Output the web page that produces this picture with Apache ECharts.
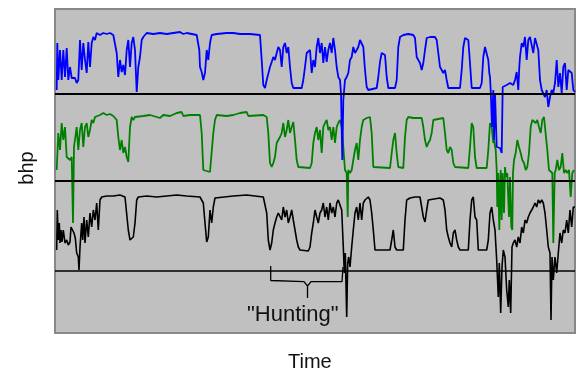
<!DOCTYPE html>
<html>
<head>
<meta charset="utf-8">
<script src="https://cdn.jsdelivr.net/npm/echarts@6/dist/echarts.min.js"></script>
<style>
  html, body { margin: 0; padding: 0; background: #fff; }
  #chart1 { width: 580px; height: 373px; }
</style>
</head>
<body>
<div id="chart1"></div>
<script>
// time (arbitrary units) , bhp (arbitrary units)
const blueTrace = [
  [1.7,243],[2.3,290],[3.3,253],[5,283],[6.7,253],[8.3,283],[10,256],[11.7,285],[13.3,253],[15,266],
  [16.7,255],[18.3,253],[20,255],[21.7,250],[23.3,253],[25,293],[26.7,263],[28.3,290],[30,273],[31.7,260],
  [33.3,291],[35,266],[36.7,290],[38.3,296],[40,293],[41.7,300],[45,298],[48.3,300],[51.7,299],[55,300],
  [58.3,298],[60,298],[61.7,280],[63.3,256],[65,273],[66.7,261],[68.3,268],[70,258],[71.7,283],[73.3,293],
  [75,266],[76.7,290],[78.3,296],[80,283],[81.7,241],[83.3,266],[85,276],[86.7,293],[88.3,296],[90,298],
  [91.7,300],[98.3,299],[105,300],[111.7,299],[118.3,300],[125,301],[128.3,299],[131.7,300],[136.7,299],[141.7,298],
  [143.3,296],[144.3,283],[145,266],[146.7,261],[148.3,253],[150,260],[151.7,283],[153.3,273],[155,290],[156.7,298],
  [161.7,299],[171.7,300],[178.3,300],[185,299],[195,299],[205,298],[206.7,273],[208.3,248],[210,245],[211.7,253],
  [213.3,251],[215,266],[216.7,271],[218.3,276],[220,273],[221.7,280],[223.3,286],[225,283],[226.7,266],[228.3,286],
  [230,290],[231.7,280],[233.3,286],[235,266],[236.7,250],[238.3,245],[246.7,245],[248.3,253],[250,266],[251.7,280],
  [253.3,278],[255,283],[256.7,260],[258.3,273],[260,266],[261.7,286],[263.3,295],[265,280],[266.7,290],[268.3,270],
  [270,286],[271.7,271],[273.3,283],[275,290],[276.7,280],[278.3,295],[280,283],[281.7,266],[283.3,256],[285,253],
  [286,240],[287.3,173],[288.3,233],[290,253],[291.7,256],[293.3,260],[295,273],[296.7,276],[298.3,286],[300,280],
  [301.7,283],[303.3,286],[305,293],[306.7,293],[308.3,286],[310,263],[311.7,246],[313.3,243],[321.7,245],[323.3,256],
  [325,271],[326.7,280],[328.3,281],[330,278],[331.7,256],[333.3,245],[340,245],[341.7,253],[343.3,286],[345,296],
  [348.3,298],[353.3,299],[358.3,298],[360,295],[361.7,276],[363.3,273],[365,270],[366.7,263],[368.3,270],[370,283],
  [371.7,295],[375,296],[380,296],[381.7,293],[383.3,280],[385,266],[386.7,263],[388.3,260],[390,263],[391.7,253],
  [393.3,245],[395,243],[405,245],[406.7,263],[408.3,286],[410,295],[411.7,296],[413.3,293],[415,270],[416.7,245],
  [425,245],[426.7,250],[428.3,276],[430,286],[431.7,288],[433.3,273],[434.3,260],[435,256],[435.7,243],[437,206],
  [438.3,243],[439,193],[440,240],[441.7,186],[445,185],[446.7,180],[447.7,246],[449,245],[451.7,248],[455,250],
  [458.3,248],[460,253],[461.7,261],[463.3,243],[464.3,266],[465,276],[466.7,290],[468.3,286],[470,296],[471.7,273],
  [473.3,293],[475,296],[476.7,295],[478.3,280],[480,295],[481.7,293],[483.3,283],[485,253],[486.7,243],[488.3,241],
  [490,236],[491.7,243],[493.3,226],[495,236],[496.7,243],[498.3,240],[500,250],[501.7,273],[503.3,246],[505,260],
  [506.7,240],[508.3,266],[510,270],[511.7,243],[513.3,263],[515,263],[516.7,260],[518.3,243],[520,241]
];

const greenTrace = [
  [1.7,163],[3.3,200],[5,183],[6.7,210],[8.3,193],[10,206],[11.7,176],[13.3,176],[15,173],[16.7,176],
  [18,110],[19,186],[20,186],[21.7,206],[23.3,183],[25,203],[26.7,210],[28.3,186],[30,206],[31.7,210],
  [33.3,196],[35,203],[36.7,213],[38.3,210],[40,216],[41.7,218],[45,218],[48.3,220],[51.7,218],[55,219],
  [58.3,217],[61.7,213],[63.3,196],[65,183],[66.7,193],[68.3,180],[70,186],[71.7,176],[73.3,171],[75,206],
  [76.7,216],[78.3,213],[80,216],[81.7,218],[88.3,217],[95,218],[101.7,216],[105,215],[108.3,218],[115,217],
  [121.7,220],[126.7,221],[128.3,217],[135,218],[145,218],[146.7,200],[148.3,163],[155,161],[156.7,163],[158.3,200],
  [160,213],[161.7,218],[171.7,217],[178.3,218],[185,220],[191.7,221],[193.3,217],[208.3,218],[211.7,216],[213.3,200],
  [215,170],[216.7,166],[218.3,170],[220,176],[221.7,190],[223.3,193],[225,196],[226.7,200],[228.3,210],[230,196],
  [231.7,203],[233.3,213],[235,200],[236.7,206],[238.3,211],[240,193],[241.7,173],[243.3,166],[255,165],[256.7,170],
  [258.3,190],[260,200],[261.7,206],[263.3,193],[265,203],[266.7,180],[268.3,206],[270,210],[271.7,213],[273.3,203],
  [275,206],[276.7,193],[278.3,206],[280,190],[281.7,206],[283.3,210],[285,213],[286.7,206],[288.3,186],[290,163],
  [291.7,160],[292.7,116],[293.3,163],[295,160],[296.7,163],[298.3,173],[300,183],[301.7,190],[303.3,173],[305,193],
  [306.7,206],[308.3,213],[311.7,215],[315,216],[316.7,200],[318.3,166],[320,165],[335,165],[336.7,180],[338.3,193],
  [340,200],[341.7,180],[343.3,166],[348.3,165],[350,196],[351.7,213],[353.3,216],[358.3,215],[366.7,215],[368.3,206],
  [370,193],[371.7,186],[373.3,190],[375,193],[376.7,200],[378.3,213],[380,215],[388.3,215],[390,200],[391.7,183],
  [393.3,180],[395,186],[396.7,183],[398.3,170],[400,166],[401.7,165],[413.3,165],[415,186],[416.7,210],[418.3,206],
  [420,176],[421.7,165],[431.7,165],[433.3,183],[435,210],[436.7,206],[438.3,190],[439,193],[440.7,183],[441.7,163],
  [442.3,126],[443.3,160],[444.3,103],[445.7,163],[446.7,113],[447.7,160],[449,120],[450,166],[451,156],[452.3,160],
  [454,116],[455,156],[456.3,106],[457.3,103],[458,160],[459,173],[460.7,180],[462.3,193],[464,186],[465.7,180],
  [467.3,173],[469,170],[470.7,163],[472.3,166],[474,180],[475.7,206],[477.3,213],[479,215],[480.7,210],[482.3,213],
  [484,206],[485.7,200],[487.3,213],[489,216],[490.7,216],[492.3,183],[494,163],[495.7,161],[497.3,160],[498.3,90],
  [499.7,160],[500.7,163],[502.3,173],[504,163],[505.7,166],[507.3,180],[509,160],[510.7,163],[512.3,160],[514,163],
  [515.7,136],[517.3,160],[519,163]
];

const blackTrace = [
  [1.7,83],[2.3,123],[3.3,93],[4.3,110],[5,90],[6,103],[7,91],[8.3,103],[10,90],[11.7,93],
  [13.3,88],[15,91],[16,106],[17.7,108],[19,100],[20.3,95],[21.7,80],[23.3,76],[24,63],[25,86],
  [26.7,110],[27.7,93],[29,116],[30,90],[31.7,113],[33.3,96],[35,120],[36.7,106],[38.3,123],[40,113],
  [41.7,130],[43.3,103],[45,133],[46.7,136],[51.7,137],[58.3,137],[65,138],[70,136],[71.7,135],[73.3,103],
  [75,93],[76.7,91],[78.3,96],[80,110],[81.7,133],[83.3,136],[91.7,137],[101.7,136],[111.7,137],[121.7,138],
  [131.7,137],[145,136],[148.3,130],[150,110],[151.7,91],[153.3,96],[155,123],[156.7,110],[158.3,126],[160,135],
  [161.7,136],[178.3,137],[191.7,138],[208.3,136],[210,135],[211.7,120],[213.3,93],[215,83],[216.7,90],[218.3,103],
  [220,110],[221.7,116],[223.3,120],[225,120],[226.7,113],[228.3,126],[230,116],[231.7,123],[233.3,110],[235,116],
  [236.7,123],[238.3,113],[240,103],[241.7,93],[243.3,86],[245,83],[253.3,82],[255,86],[256.7,100],[258.3,110],
  [260,123],[261.7,116],[263.3,110],[265,120],[266.7,123],[268.3,130],[270,116],[271.7,126],[273.3,113],[275,130],
  [276.7,120],[278.3,126],[280,116],[281.7,130],[283.3,133],[285,133],[286.7,123],[288.3,86],[289.3,60],[290.3,80],
  [291.7,16],[292.7,70],[293.7,76],[295,66],[296.7,86],[298.3,103],[300,120],[301.7,126],[303.3,113],[305,130],
  [306.7,113],[308.3,130],[310,133],[311.7,135],[313.3,136],[315,133],[316.7,120],[318.3,103],[320,83],[335,83],
  [336.7,93],[338.3,103],[340,86],[341.7,83],[348.3,83],[350,113],[351.7,133],[355,135],[360,136],[365,136],
  [366.7,135],[368.3,116],[370,111],[371.7,123],[373.3,133],[375,135],[385,135],[388.3,133],[390,123],[391.7,103],
  [393.3,96],[395,90],[396.7,86],[398.3,100],[400,103],[401.7,93],[403.3,86],[405,83],[413.3,83],[415,113],
  [416.7,133],[418.3,136],[420,116],[421.7,113],[423.3,83],[431.7,83],[433.3,93],[435,120],[436.7,126],[438.3,113],
  [440,103],[441.7,73],[443.3,36],[444.3,70],[445.7,20],[447,66],[448.3,83],[450,76],[451.7,43],[453.3,26],
  [454.3,53],[455.7,20],[457,86],[458.3,90],[460,93],[461.7,86],[463.3,96],[465,90],[466.7,106],[468.3,100],
  [470,113],[471.7,110],[473.3,116],[475,120],[476.7,123],[478.3,126],[480,130],[481.7,126],[483.3,133],[485,130],
  [486.7,133],[488.3,130],[490,120],[491.7,103],[493.3,86],[495,80],[496,13],[497,76],[498.3,53],[500,76],
  [501.7,60],[503.3,80],[505,100],[506.7,90],[508.3,103],[510,100],[511.7,113],[513.3,100],[515,123],[516.7,106],
  [518.3,126],[520,126]
];

const refLevels = [239, 152, 62.5];
const refWidths = [2, 2, 1.5];

// curly bracket under the "Hunting" stretch, in data units
const braceLine = [
  [215.7,67],[215.7,52.5],[217,51.3],[249,51.3],[252.5,47],[256,51.3],[287,51.3],[288,52.5],[288,66],
  null,[252.5,47],[252.5,35]
];

const initChart1 = () => {
  const chart1 = echarts.init(document.getElementById('chart1'), null, { renderer: 'canvas' });
  chart1.setOption(getOptionChart1());
};

const getOptionChart1 = () => {
  const fontFam = 'Liberation Sans, Arial, sans-serif';
  return {
    animation: false,
    backgroundColor: '#ffffff',
    grid: {
      left: 55,
      right: 5,
      top: 9,
      bottom: 40,
      show: true,
      backgroundColor: '#c0c0c0',
      borderColor: '#888888',
      borderWidth: 2
    },
    xAxis: {
      type: 'value',
      min: 0,
      max: 520,
      show: false
    },
    yAxis: {
      type: 'value',
      min: 0,
      max: 324,
      show: false
    },
    graphic: [
      {
        type: 'text',
        left: 288,
        top: 352,
        style: { text: 'Time', fontSize: 20, fontFamily: fontFam, fill: '#111' }
      },
      {
        type: 'text',
        x: 27,
        y: 168,
        rotation: Math.PI / 2,
        style: {
          text: 'bhp', fontSize: 20, fontFamily: fontFam, fill: '#111',
          textAlign: 'center', textVerticalAlign: 'middle'
        }
      },
      {
        type: 'text',
        left: 247,
        top: 304,
        style: { text: '"Hunting"', fontSize: 22, fontFamily: fontFam, fill: '#111' }
      }
    ],
    series: [
      {
        name: 'levels',
        type: 'line',
        data: [],
        silent: true,
        markLine: {
          silent: true,
          symbol: 'none',
          label: { show: false },
          data: refLevels.map((v, i) => ({
            yAxis: v,
            lineStyle: { color: '#000', width: refWidths[i], type: 'solid' }
          }))
        }
      },
      {
        name: 'blue',
        type: 'line',
        data: blueTrace,
        showSymbol: false,
        lineStyle: { color: '#0000ff', width: 1.8 },
        z: 3
      },
      {
        name: 'green',
        type: 'line',
        data: greenTrace,
        showSymbol: false,
        lineStyle: { color: '#008000', width: 1.8 },
        z: 2
      },
      {
        name: 'black',
        type: 'line',
        data: blackTrace,
        showSymbol: false,
        lineStyle: { color: '#000000', width: 1.6 },
        z: 4
      },
      {
        name: 'brace',
        type: 'line',
        data: braceLine,
        showSymbol: false,
        connectNulls: false,
        lineStyle: { color: '#000000', width: 1.3 },
        z: 4
      }
    ]
  };
};

if (typeof window !== 'undefined') {
  initChart1();
}
</script>
</body>
</html>
